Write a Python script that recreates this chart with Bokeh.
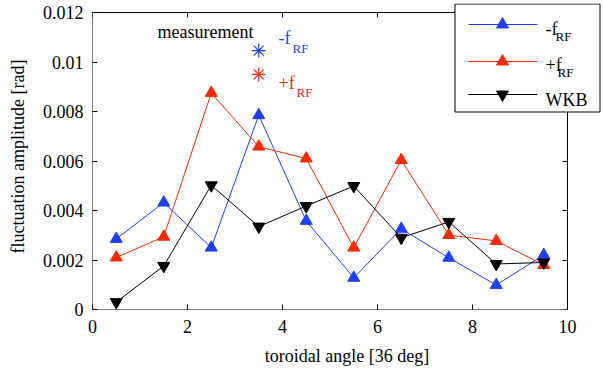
from bokeh.plotting import figure
from bokeh.models import (LinearAxis, FixedTicker, CustomJSTickFormatter, Label, Range1d)
from bokeh.embed import file_html
from bokeh.resources import INLINE

angle = [0.5, 1.5, 2.5, 3.5, 4.5, 5.5, 6.5, 7.5, 8.5, 9.5]
minus_frf = [0.00285, 0.00432, 0.00250, 0.00785, 0.00358, 0.00128, 0.00326, 0.00209, 0.00099, 0.00220]
plus_frf = [0.00210, 0.00294, 0.00875, 0.00658, 0.00610, 0.00250, 0.00604, 0.00301, 0.00277, 0.00180]
wkb = [0.00030, 0.00176, 0.00502, 0.00335, 0.00418, 0.00499, 0.00290, 0.00354, 0.00184, 0.00190]

meas_x = [3.5]
meas_minus_y = [0.01046]
meas_plus_y = [0.00950]

x_ticks = [0, 2, 4, 6, 8, 10]
y_ticks = [0, 0.002, 0.004, 0.006, 0.008, 0.010, 0.012]

series_names = ["-f", "+f", "WKB"]
series_subs = ["RF", "RF", ""]

BLUE = "#1f3fff"
RED = "#ff2a00"
FONT = "Liberation Serif"

# layout (canvas pixels)
W, H = 603, 369
FL, FR, FT, FB = 92, 601, 3, 309       # frame edges
AX_R, AX_T = 567, 12                     # where x=10 and y=0.012 sit
LG_L, LG_R, LG_T, LG_B = 454.5, 599.5, 3.5, 111.5   # legend box
sx = (AX_R - FL) / (x_ticks[-1] - x_ticks[0])
sy = (FB - AX_T) / (y_ticks[-1] - y_ticks[0])
x_end = x_ticks[0] + (FR - FL) / sx
y_end = y_ticks[0] + (FB - FT) / sy

def px2x(px):
    return x_ticks[0] + (px - FL) / sx

def px2y(py):
    return y_ticks[0] + (FB - py) / sy

p = figure(width=W, height=H, output_backend="svg", toolbar_location=None,
           x_range=Range1d(x_ticks[0], x_end), y_range=Range1d(y_ticks[0], y_end),
           min_border_left=FL, min_border_right=W - FR, min_border_top=FT,
           min_border_bottom=H - FB)
p.grid.visible = False
p.outline_line_color = None

fmt = CustomJSTickFormatter(code="return String(parseFloat(tick.toFixed(4)));")

for ax in (p.xaxis[0], p.yaxis[0]):
    ax.major_tick_in = 5
    ax.major_tick_out = 0
    ax.minor_tick_line_color = None
    ax.axis_line_color = None
    ax.major_tick_line_color = "black"
    ax.major_label_text_font = FONT
    ax.major_label_text_font_size = "18px"
    ax.major_label_text_color = "black"
    ax.axis_label_text_font = FONT
    ax.axis_label_text_font_size = "18px"
    ax.axis_label_text_font_style = "normal"
    ax.axis_label_text_color = "black"
    ax.formatter = fmt

p.xaxis[0].ticker = FixedTicker(ticks=x_ticks)
p.yaxis[0].ticker = FixedTicker(ticks=y_ticks)
p.xaxis[0].axis_label = "toroidal angle [36 deg]"
p.yaxis[0].axis_label = "fluctuation amplitude [rad]"
p.xaxis[0].major_label_standoff = 10
p.yaxis[0].major_label_standoff = 9
p.xaxis[0].axis_label_standoff = 10
p.yaxis[0].axis_label_standoff = 12

# mirrored ticks on top / right (those hidden under the legend box are left out)
top_ticks = [t for t in x_ticks if FL + (t - x_ticks[0]) * sx < LG_L - 2]
right_ticks = [t for t in y_ticks if FB - (t - y_ticks[0]) * sy > LG_B + 1]
blank = CustomJSTickFormatter(code='return "";')
top_ax = LinearAxis(ticker=FixedTicker(ticks=top_ticks), fixed_location=y_ticks[-1],
                    major_tick_in=5, major_tick_out=0, minor_tick_line_color=None,
                    formatter=blank, major_label_text_color=None,
                    major_label_standoff=0, axis_line_color=None)
right_ax = LinearAxis(ticker=FixedTicker(ticks=right_ticks), fixed_location=x_ticks[-1],
                      major_tick_in=5, major_tick_out=0, minor_tick_line_color=None,
                      formatter=blank, major_label_text_color=None,
                      major_label_standoff=0, axis_line_color=None)
p.add_layout(top_ax, "above")
p.add_layout(right_ax, "right")

# plot box
p.quad(left=[x_ticks[0]], right=[x_ticks[-1]], bottom=[y_ticks[0]], top=[y_ticks[-1]],
       fill_color=None, line_color="black", line_width=1)

colors = [BLUE, RED, "black"]
markers = ["triangle", "triangle", "inverted_triangle"]
for ys, c, m in zip([minus_frf, plus_frf, wkb], colors, markers):
    p.line(angle, ys, line_color=c, line_width=1)
    p.scatter(angle, ys, marker=m, size=12, fill_color=c, line_color=c)

p.scatter(meas_x, meas_minus_y, marker="asterisk", size=14, line_color=BLUE, line_width=1.2)
p.scatter(meas_x, meas_plus_y, marker="asterisk", size=14, line_color=RED, line_width=1.2)

def lab(px, py, t, color="black", size="18px"):
    p.add_layout(Label(x=px2x(px), y=px2y(py), text=t, text_color=color, text_font=FONT,
                       text_font_size=size, text_baseline="alphabetic", text_align="left",
                       level="overlay"))

lab(157, 31, "measurement")
lab(278, 37, "-f", BLUE)
lab(292, 48, "RF", BLUE, "13px")
lab(278, 82, "+f", RED)
lab(296, 92, "RF", RED, "13px")

# legend box (drawn over the plot box, like the original)
p.quad(left=[px2x(LG_L)], right=[px2x(LG_R)], top=[px2y(LG_T)], bottom=[px2y(LG_B)],
       fill_color="white", line_color="black", line_width=1)
row_y = [24, 61, 94]
base_y = [28.5, 64.5, 99.5]
sub_y = [36, 72, 0]
sub_x = [555, 557, 0]
for i, (name, sub) in enumerate(zip(series_names, series_subs)):
    yy = px2y(row_y[i])
    p.line([px2x(468), px2x(537)], [yy, yy], line_color=colors[i], line_width=1)
    p.scatter([px2x(502)], [yy], marker=markers[i], size=12,
              fill_color=colors[i], line_color=colors[i])
    lab(545, base_y[i], name)
    if sub:
        lab(sub_x[i], sub_y[i], sub, "black", "13px")

open("out.html", "w").write(file_html(p, INLINE))
